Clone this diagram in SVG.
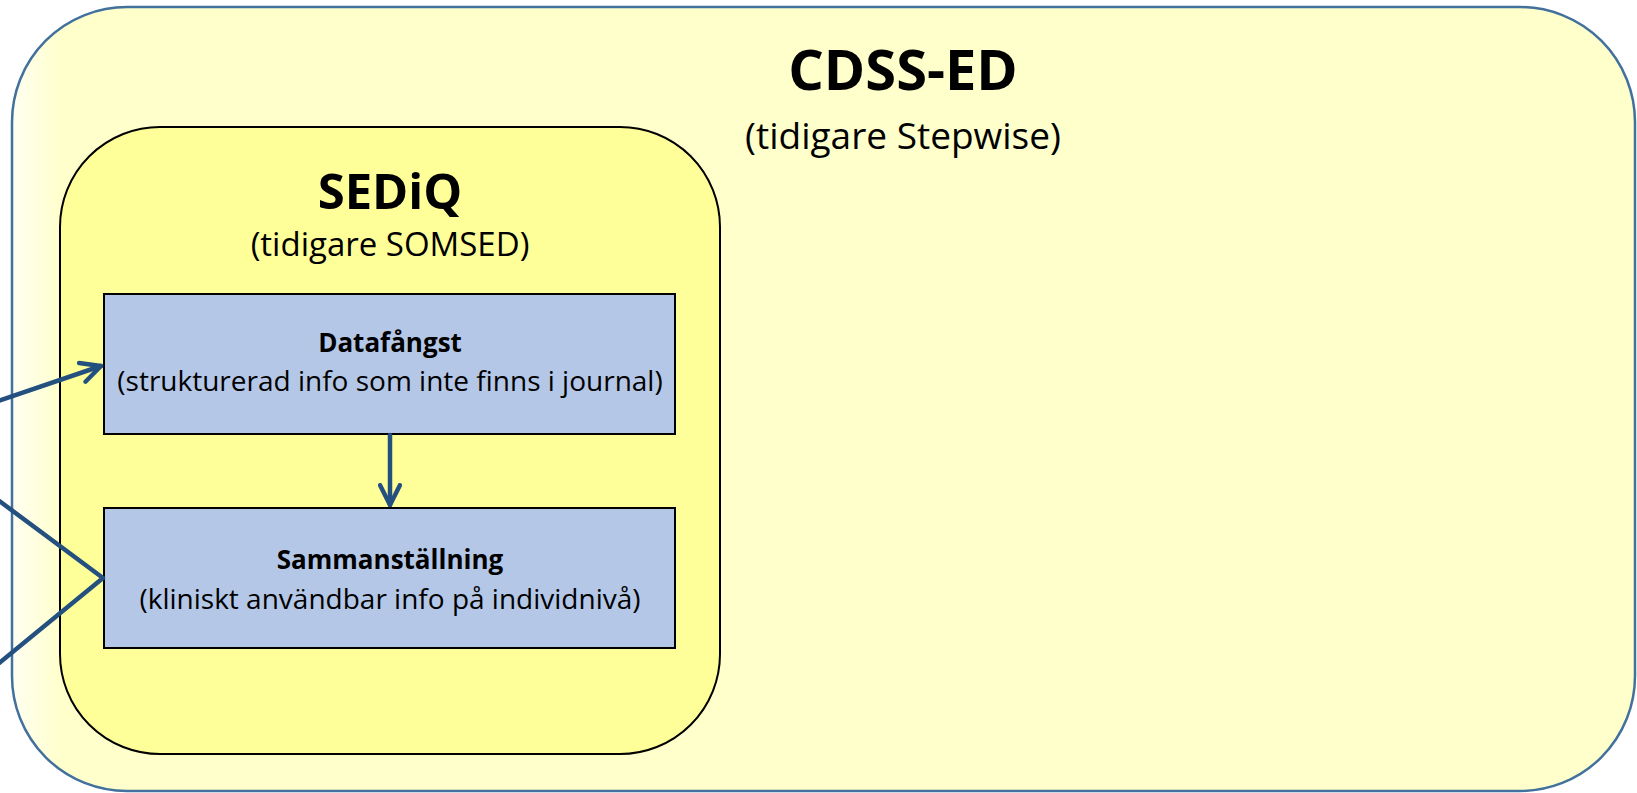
<svg xmlns="http://www.w3.org/2000/svg" width="1637" height="793" viewBox="0 0 1637 793">
<style>
.t{font-family:"Open Sans","Noto Sans","Liberation Sans",sans-serif;fill:#000;text-anchor:middle}
.b{font-weight:bold}
.box{fill:#B4C7E7;stroke:#000;stroke-width:2}
.con{fill:none;stroke:#23507F;stroke-width:4.5;stroke-linecap:round;stroke-linejoin:round}
</style>
<defs>
<linearGradient id="og" x1="0" y1="0" x2="1" y2="0">
<stop offset="0" stop-color="#FFFFF2"/>
<stop offset="0.03" stop-color="#FFFFCC"/>
<stop offset="1" stop-color="#FFFFCC"/>
</linearGradient>
<marker id="ah" viewBox="0 0 20 20" refX="18" refY="10" markerWidth="5.5" markerHeight="5.5" markerUnits="strokeWidth" orient="auto">
<path d="M2,2 L18,10 L2,18" fill="none" stroke="#23507F" stroke-width="3.6" stroke-linecap="round" stroke-linejoin="round"/>
</marker>
</defs>
<g id="cdss-ed">
<rect x="12" y="7" width="1623" height="784" rx="115" ry="115" fill="url(#og)" stroke="#41719C" stroke-width="2.5"/>
<text class="t b" x="903" y="90" font-size="56">CDSS-ED</text>
<text class="t" x="903" y="149" font-size="37">(tidigare Stepwise)</text>
</g>
<g id="sediq">
<rect x="60" y="127" width="660" height="627" rx="100" ry="100" fill="#FFFF99" stroke="#000" stroke-width="2"/>
<text class="t b" x="390" y="209" font-size="49">SEDiQ</text>
<text class="t" x="390" y="256" font-size="33">(tidigare SOMSED)</text>
</g>
<g id="datafangst">
<rect class="box" x="104" y="294" width="571" height="140"/>
<text class="t b" x="390" y="352" font-size="26">Datafångst</text>
<text class="t" x="390" y="391" font-size="28">(strukturerad info som inte finns i journal)</text>
</g>
<g id="sammanstallning">
<rect class="box" x="104" y="508" width="571" height="140"/>
<text class="t b" x="390" y="569" font-size="26">Sammanställning</text>
<text class="t" x="390" y="609" font-size="28">(kliniskt användbar info på individnivå)</text>
</g>
<g id="connectors">
<line class="con" x1="-2" y1="401" x2="101" y2="366" marker-end="url(#ah)"/>
<line class="con" x1="390" y1="435" x2="390" y2="505" marker-end="url(#ah)"/>
<polyline class="con" points="-2,500 103,578 -2,664"/>
</g>
</svg>
